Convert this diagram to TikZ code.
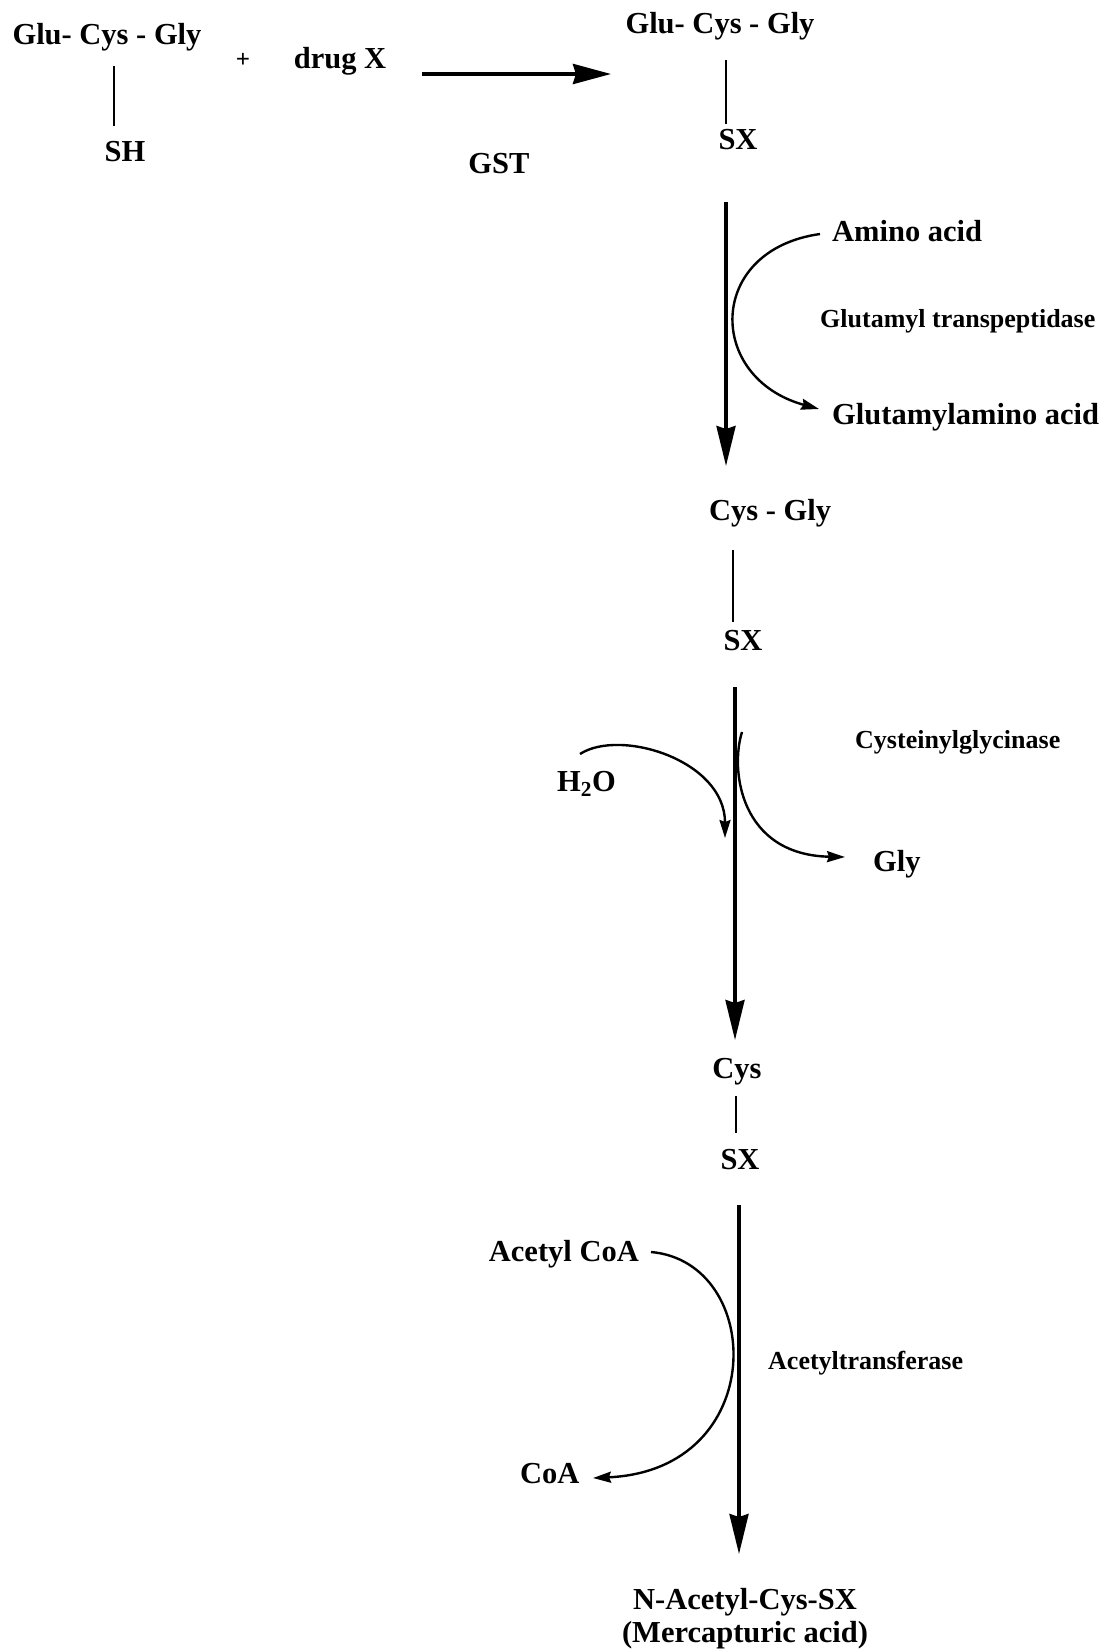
\documentclass[tikz,border=0pt]{standalone}
\usepackage{fontspec}
\setmainfont{Liberation Serif}
\usetikzlibrary{arrows.meta}
\begin{document}
\begin{tikzpicture}[x=1pt,y=-1pt,
  lbl/.style={inner sep=0pt,font=\fontsize{30.5}{34}\selectfont\bfseries},
  slbl/.style={inner sep=0pt,font=\fontsize{26}{30}\selectfont\bfseries},
  bond/.style={line width=2.4pt},
  spine/.style={line width=3.4pt,-{Stealth[length=40pt,width=19pt,inset=3pt]}},
  side/.style={line width=2.4pt,-{Stealth[length=18pt,width=11pt,inset=2pt]}}]
\useasboundingbox (0,0) rectangle (1114,1652);
% top row
\node[lbl,anchor=base] (glu1) at (107,44) {Glu- Cys - Gly};
\node[lbl,anchor=base] (sh) at (125,161) {SH};
\node[inner sep=0pt,font=\fontsize{25}{28}\selectfont\bfseries] (plus) at (243,60) {+};
\node[lbl,anchor=base] (drug) at (340,68) {drug X};
\node[lbl,anchor=base] (gst) at (499,173) {GST};
\node[lbl,anchor=base] (glu2) at (720,33) {Glu- Cys - Gly};
\node[lbl,anchor=base] (sx1) at (738,149) {SX};
\coordinate (b1a) at (114,66); \coordinate (b1b) at (114,126);
\draw[bond] (b1a) -- (b1b);
\coordinate (ha) at (422,74); \coordinate (hb) at (611,74);
\draw[line width=3.8pt,-{Stealth[length=38pt,width=20pt,inset=3pt]}] (ha) -- (hb);
\coordinate (b2a) at (726,60); \coordinate (b2b) at (726,124);
\draw[bond] (b2a) -- (b2b);
% step 1
\coordinate (s1a) at (726,202); \coordinate (s1b) at (726,466);
\draw[spine] (s1a) -- (s1b);
\node[lbl,anchor=base west] (amino) at (832,241) {Amino acid};
\node[slbl,anchor=base west] (gtp) at (820,327) {Glutamyl transpeptidase};
\node[lbl,anchor=base west] (glam) at (832,424) {Glutamylamino acid};
\coordinate (c1a) at (820,234); \coordinate (c1b) at (819,409);
\draw[side] (c1a) .. controls (706,250) and (706,378) .. (c1b);
\node[lbl,anchor=base] (cysgly) at (770,520) {Cys - Gly};
\coordinate (b3a) at (733,550); \coordinate (b3b) at (733,622);
\draw[bond] (b3a) -- (b3b);
\node[lbl,anchor=base] (sx2) at (743,650) {SX};
% step 2
\coordinate (s2a) at (735,687); \coordinate (s2b) at (735,1040);
\draw[spine] (s2a) -- (s2b);
\node[lbl,anchor=base west] (h2o) at (557,791) {H\textsubscript{2}O};
\node[slbl,anchor=base west] (cgase) at (855,748) {Cysteinylglycinase};
\node[lbl,anchor=base west] (gly) at (873,871) {Gly};
\coordinate (c2a) at (580,754); \coordinate (c2b) at (725,838);
\draw[side] (c2a) .. controls (620,728) and (725,760) .. (c2b);
\coordinate (c3a) at (742,732); \coordinate (c3b) at (845,857);
\draw[side] (c3a) .. controls (730,770) and (740,855) .. (c3b);
\node[lbl,anchor=base] (cys) at (737,1078) {Cys};
\coordinate (b4a) at (736,1096); \coordinate (b4b) at (736,1133);
\draw[bond] (b4a) -- (b4b);
\node[lbl,anchor=base] (sx3) at (740,1169) {SX};
% step 3
\coordinate (s3a) at (739,1205); \coordinate (s3b) at (739,1554);
\draw[spine] (s3a) -- (s3b);
\node[lbl,anchor=base east] (acoa) at (639,1261) {Acetyl CoA};
\node[slbl,anchor=base west] (atr) at (768,1369) {Acetyltransferase};
\node[lbl,anchor=base west] (coa) at (520,1483) {CoA};
\coordinate (c4a) at (651,1252); \coordinate (c4b) at (593,1478);
\draw[side] (c4a) .. controls (765,1262) and (770,1470) .. (c4b);
\node[lbl,anchor=base] (nac) at (745,1609) {N-Acetyl-Cys-SX};
\node[lbl,anchor=base] (merc) at (745,1642) {(Mercapturic acid)};
\end{tikzpicture}
\end{document}
